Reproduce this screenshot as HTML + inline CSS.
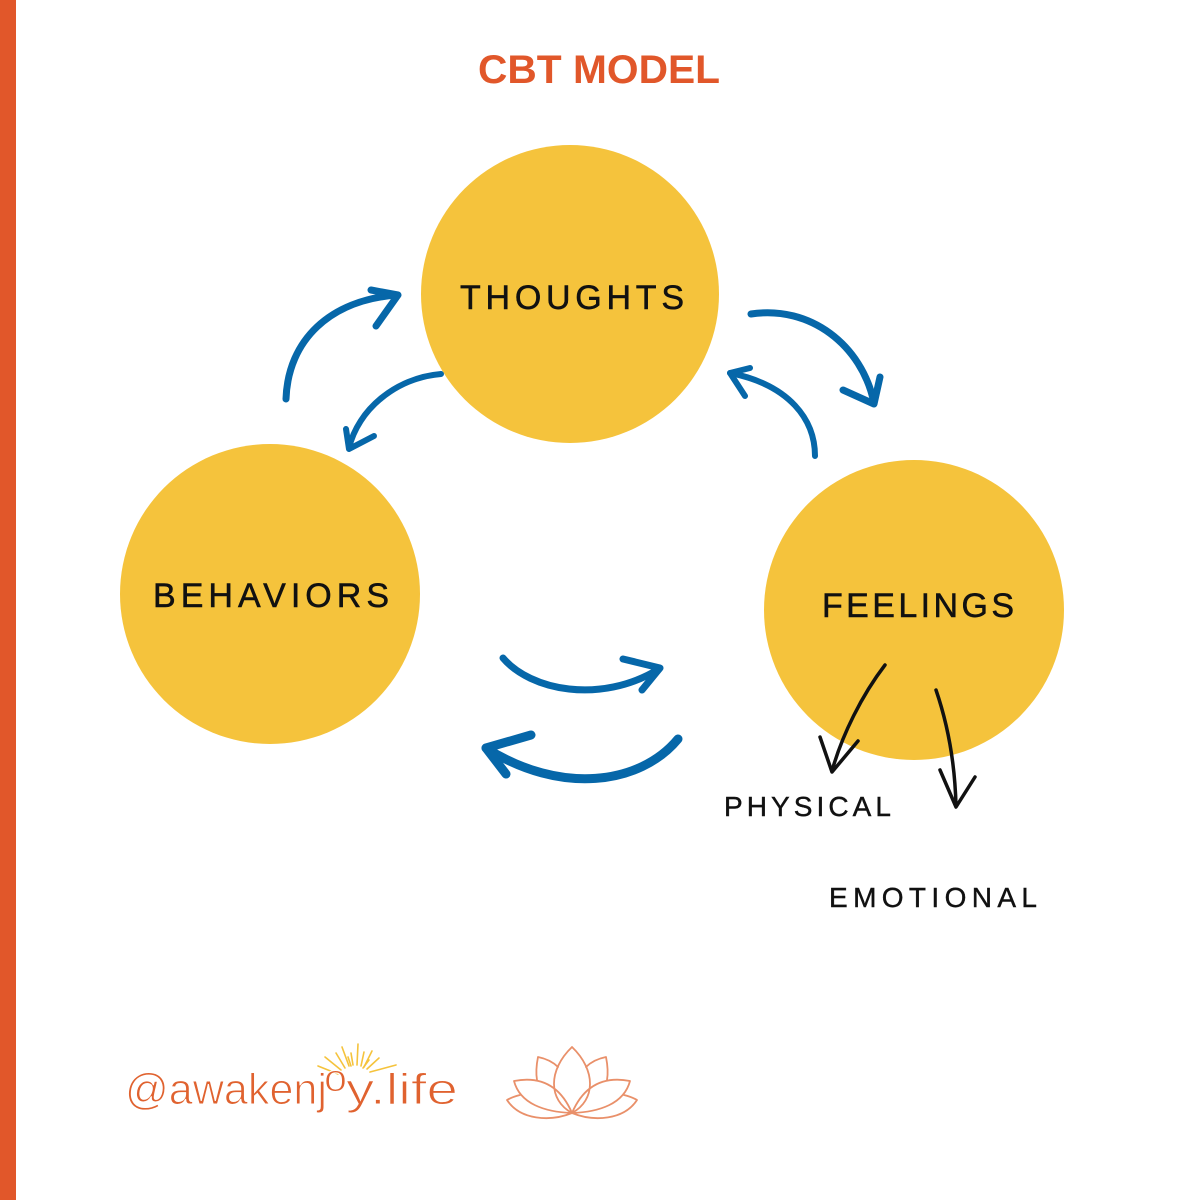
<!DOCTYPE html>
<html>
<head>
<meta charset="utf-8">
<style>
  html, body { margin:0; padding:0; background:#ffffff; }
  body { width:1200px; height:1200px; overflow:hidden; position:relative; }
  svg { position:absolute; left:0; top:0; }
</style>
</head>
<body>
<svg width="1200" height="1200" viewBox="0 0 1200 1200" xmlns="http://www.w3.org/2000/svg">
  <rect x="0" y="0" width="1200" height="1200" fill="#ffffff"/>
  <!-- left orange bar -->
  <rect x="0" y="0" width="16" height="1200" fill="#E1572A"/>

  <!-- title -->
  <text x="478" y="83" font-family="Liberation Sans, sans-serif" font-weight="bold" font-size="40" fill="#E1572A" textLength="242" lengthAdjust="spacingAndGlyphs">CBT MODEL</text>

  <!-- circles -->
  <circle cx="570" cy="294" r="149" fill="#F5C33C"/>
  <circle cx="270" cy="594" r="150" fill="#F5C33C"/>
  <circle cx="914" cy="610" r="150" fill="#F5C33C"/>

  <!-- circle labels -->
  <g font-family="Liberation Sans, sans-serif" font-size="34" fill="#111111" stroke="#111111" stroke-width="0.5">
    <text x="460" y="309" textLength="224" lengthAdjust="spacing">THOUGHTS</text>
    <text x="153" y="607" textLength="236" lengthAdjust="spacing">BEHAVIORS</text>
    <text x="822" y="617" textLength="192" lengthAdjust="spacing">FEELINGS</text>
  </g>

  <!-- blue arrows -->
  <g fill="none" stroke="#0667A9" stroke-linecap="round" stroke-linejoin="round">
    <path d="M286 399 C 288 340, 330 300, 397 295" stroke-width="7"/>
    <path d="M371 290 L 398 295 L 376 326" stroke-width="7"/>
    <path d="M441 374 C 395 378, 358 410, 349 448" stroke-width="6"/>
    <path d="M346 429 L 349 449 L 374 436" stroke-width="6"/>
    <path d="M751 314 C 810 305, 862 345, 874 403" stroke-width="7"/>
    <path d="M880 377 L 874 404 L 843 390" stroke-width="7"/>
    <path d="M815 456 C 815 420, 790 385, 730 373" stroke-width="6"/>
    <path d="M750 368 L 730 373 L 745 396" stroke-width="6"/>
    <path d="M503 658 C 530 690, 600 705, 659 669" stroke-width="7"/>
    <path d="M623 659 L 660 668 L 642 690" stroke-width="7"/>
    <path d="M678 739 C 640 785, 560 795, 486 748" stroke-width="9"/>
    <path d="M531 735 L 486 748 L 506 774" stroke-width="9"/>
  </g>

  <!-- black arrows -->
  <g fill="none" stroke="#111111" stroke-linecap="round" stroke-linejoin="round" stroke-width="3.5">
    <path d="M885 665 C 862 695, 842 735, 832 771"/>
    <path d="M820 737 L 832 772 L 858 741"/>
    <path d="M936 690 C 948 725, 955 765, 956 806"/>
    <path d="M940 770 L 956 807 L 975 777"/>
  </g>

  <!-- labels -->
  <g font-family="Liberation Sans, sans-serif" font-size="28" fill="#111111" stroke="#111111" stroke-width="0.4">
    <text x="724" y="816" textLength="167" lengthAdjust="spacing">PHYSICAL</text>
    <text x="829" y="907" textLength="208" lengthAdjust="spacing">EMOTIONAL</text>
  </g>

  <!-- sun rays -->
  <g stroke="#F5C33C" stroke-width="1.6" stroke-linecap="round">
    <line x1="338" y1="1074" x2="318" y2="1066"/>
    <line x1="341" y1="1070" x2="325" y2="1057"/>
    <line x1="345" y1="1068" x2="336" y2="1053"/>
    <line x1="349" y1="1066" x2="342" y2="1047"/>
    <line x1="353" y1="1065" x2="351" y2="1053"/>
    <line x1="357" y1="1065" x2="358" y2="1044"/>
    <line x1="361" y1="1066" x2="364" y2="1052"/>
    <line x1="364" y1="1067" x2="372" y2="1051"/>
    <line x1="367" y1="1069" x2="379" y2="1058"/>
    <line x1="370" y1="1072" x2="396" y2="1065"/>
    <line x1="351" y1="1066" x2="348" y2="1057"/>
    <line x1="363" y1="1068" x2="369" y2="1060"/>
  </g>

  <!-- logo text -->
  <g font-family="Liberation Sans, sans-serif" font-size="44" fill="#E0622F" stroke="#ffffff" stroke-width="1.1">
    <text x="125" y="1104" textLength="202" lengthAdjust="spacingAndGlyphs">@awakenj</text>
    <text x="324" y="1091" font-size="38" textLength="23" lengthAdjust="spacingAndGlyphs">o</text>
    <text x="346" y="1104" textLength="112" lengthAdjust="spacingAndGlyphs">y.life</text>
  </g>

  <!-- lotus -->
  <g fill="none" stroke="#E9906A" stroke-width="1.8" stroke-linecap="round" stroke-linejoin="round">
    <path d="M572 1047 C 548 1070, 548 1100, 572 1113 C 596 1100, 596 1070, 572 1047 Z"/>
    <path d="M538 1057 C 536 1067, 536 1074, 537 1080 M538 1057 C 548 1059, 554 1063, 558 1067"/>
    <path d="M606 1057 C 608 1067, 608 1074, 607 1080 M606 1057 C 596 1059, 590 1063, 586 1067"/>
    <path d="M514 1081 C 540 1076, 560 1085, 572 1113 C 545 1112, 520 1104, 514 1081 Z"/>
    <path d="M630 1081 C 604 1076, 584 1085, 572 1113 C 599 1112, 624 1104, 630 1081 Z"/>
    <path d="M507 1100 C 520 1120, 550 1122, 572 1113 M507 1100 C 512 1097, 516 1096, 520 1095"/>
    <path d="M637 1100 C 624 1120, 594 1122, 572 1113 M637 1100 C 632 1097, 628 1096, 624 1095"/>
  </g>
</svg>
</body>
</html>
